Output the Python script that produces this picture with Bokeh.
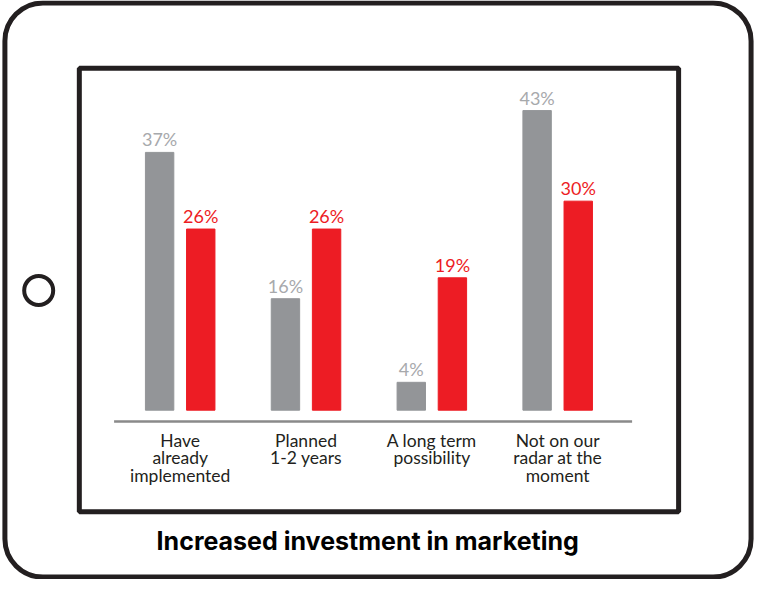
from bokeh.plotting import figure
from bokeh.models import Range1d, ColumnDataSource
from bokeh.core.properties import value
from bokeh.embed import file_html
from bokeh.resources import INLINE
import numpy as np

# ---- data ----
categories = ["Have\nalready\nimplemented", "Planned\n1-2 years", "A long term\npossibility",
              "Not on our\nradar at the\nmoment"]
gray_values = [37, 16, 4, 43]
red_values = [26, 26, 19, 30]
title_text = "Increased investment in marketing"

GRAY = "#939598"
GRAY_TXT = "#a7a9ac"
RED = "#ed1c24"
INK = "#231f20"

W, H = 754, 579
p = figure(width=W, height=H, output_backend="svg", toolbar_location=None,
           x_range=Range1d(0, 770), y_range=Range1d(-24.3, 58.8),
           x_axis_location=None, y_axis_location=None, min_border=0)
p.extra_y_ranges = {"px": Range1d(595, 0)}
p.xgrid.visible = False
p.ygrid.visible = False
p.outline_line_color = None
p.background_fill_color = "white"
p.border_fill_color = "white"

# ---- tablet decorations (reference pixel space) ----
p.rect(x=[385.5], y=[297.5], width=[762], height=[590], fill_color="white",
       line_color=INK, line_width=5, border_radius=38, y_range_name="px")
p.rect(x=[386.5], y=[297.5], width=[612], height=[456], fill_color=None,
       line_color=INK, line_width=5, y_range_name="px")
p.scatter(x=[39], y=[298], size=29, marker="circle", fill_color="white",
          line_color=INK, line_width=4, y_range_name="px")
p.segment(x0=[116], x1=[645], y0=[432.7], y1=[432.7], line_color="#8a8a8a",
          line_width=2.5, y_range_name="px")

# ---- bars ----
n = len(categories)
first_center, step, off, bw = 183.5, 128.5, 21, 29
centers = first_center + step * np.arange(n)
src = ColumnDataSource(dict(
    xc=centers, xg=centers - off, xr=centers + off,
    g=gray_values, r=red_values,
    gl=[f"{v}%" for v in gray_values], rl=[f"{v}%" for v in red_values],
    cat=categories,
))
p.vbar(x="xg", top="g", bottom=0, width=bw, color=GRAY, source=src)
p.vbar(x="xr", top="r", bottom=0, width=bw, color=RED, source=src)

font = value("Lato")
p.text(x="xg", y="g", text="gl", source=src, text_align="center", text_baseline="bottom",
       y_offset=-2, text_font=font, text_font_size="18px", text_color=GRAY_TXT)
p.text(x="xr", y="r", text="rl", source=src, text_align="center", text_baseline="bottom",
       y_offset=-2, text_font=font, text_font_size="18px", text_color=RED)

# category labels
src_lab = ColumnDataSource(dict(x=centers, y=[441] * n, t=categories))
p.text(x="x", y="y", text="t", source=src_lab, y_range_name="px", text_align="center",
       text_baseline="top", text_font=font, text_font_size="17.5px", text_color=INK,
       text_line_height=0.85)

# title
p.text(x=[375], y=[555], text=[title_text], y_range_name="px", text_align="center",
       text_baseline="middle", text_font=value("Inter"), text_font_style="bold",
       text_font_size="25px", text_color="#000000")

open("out.html", "w").write(file_html(p, INLINE))
